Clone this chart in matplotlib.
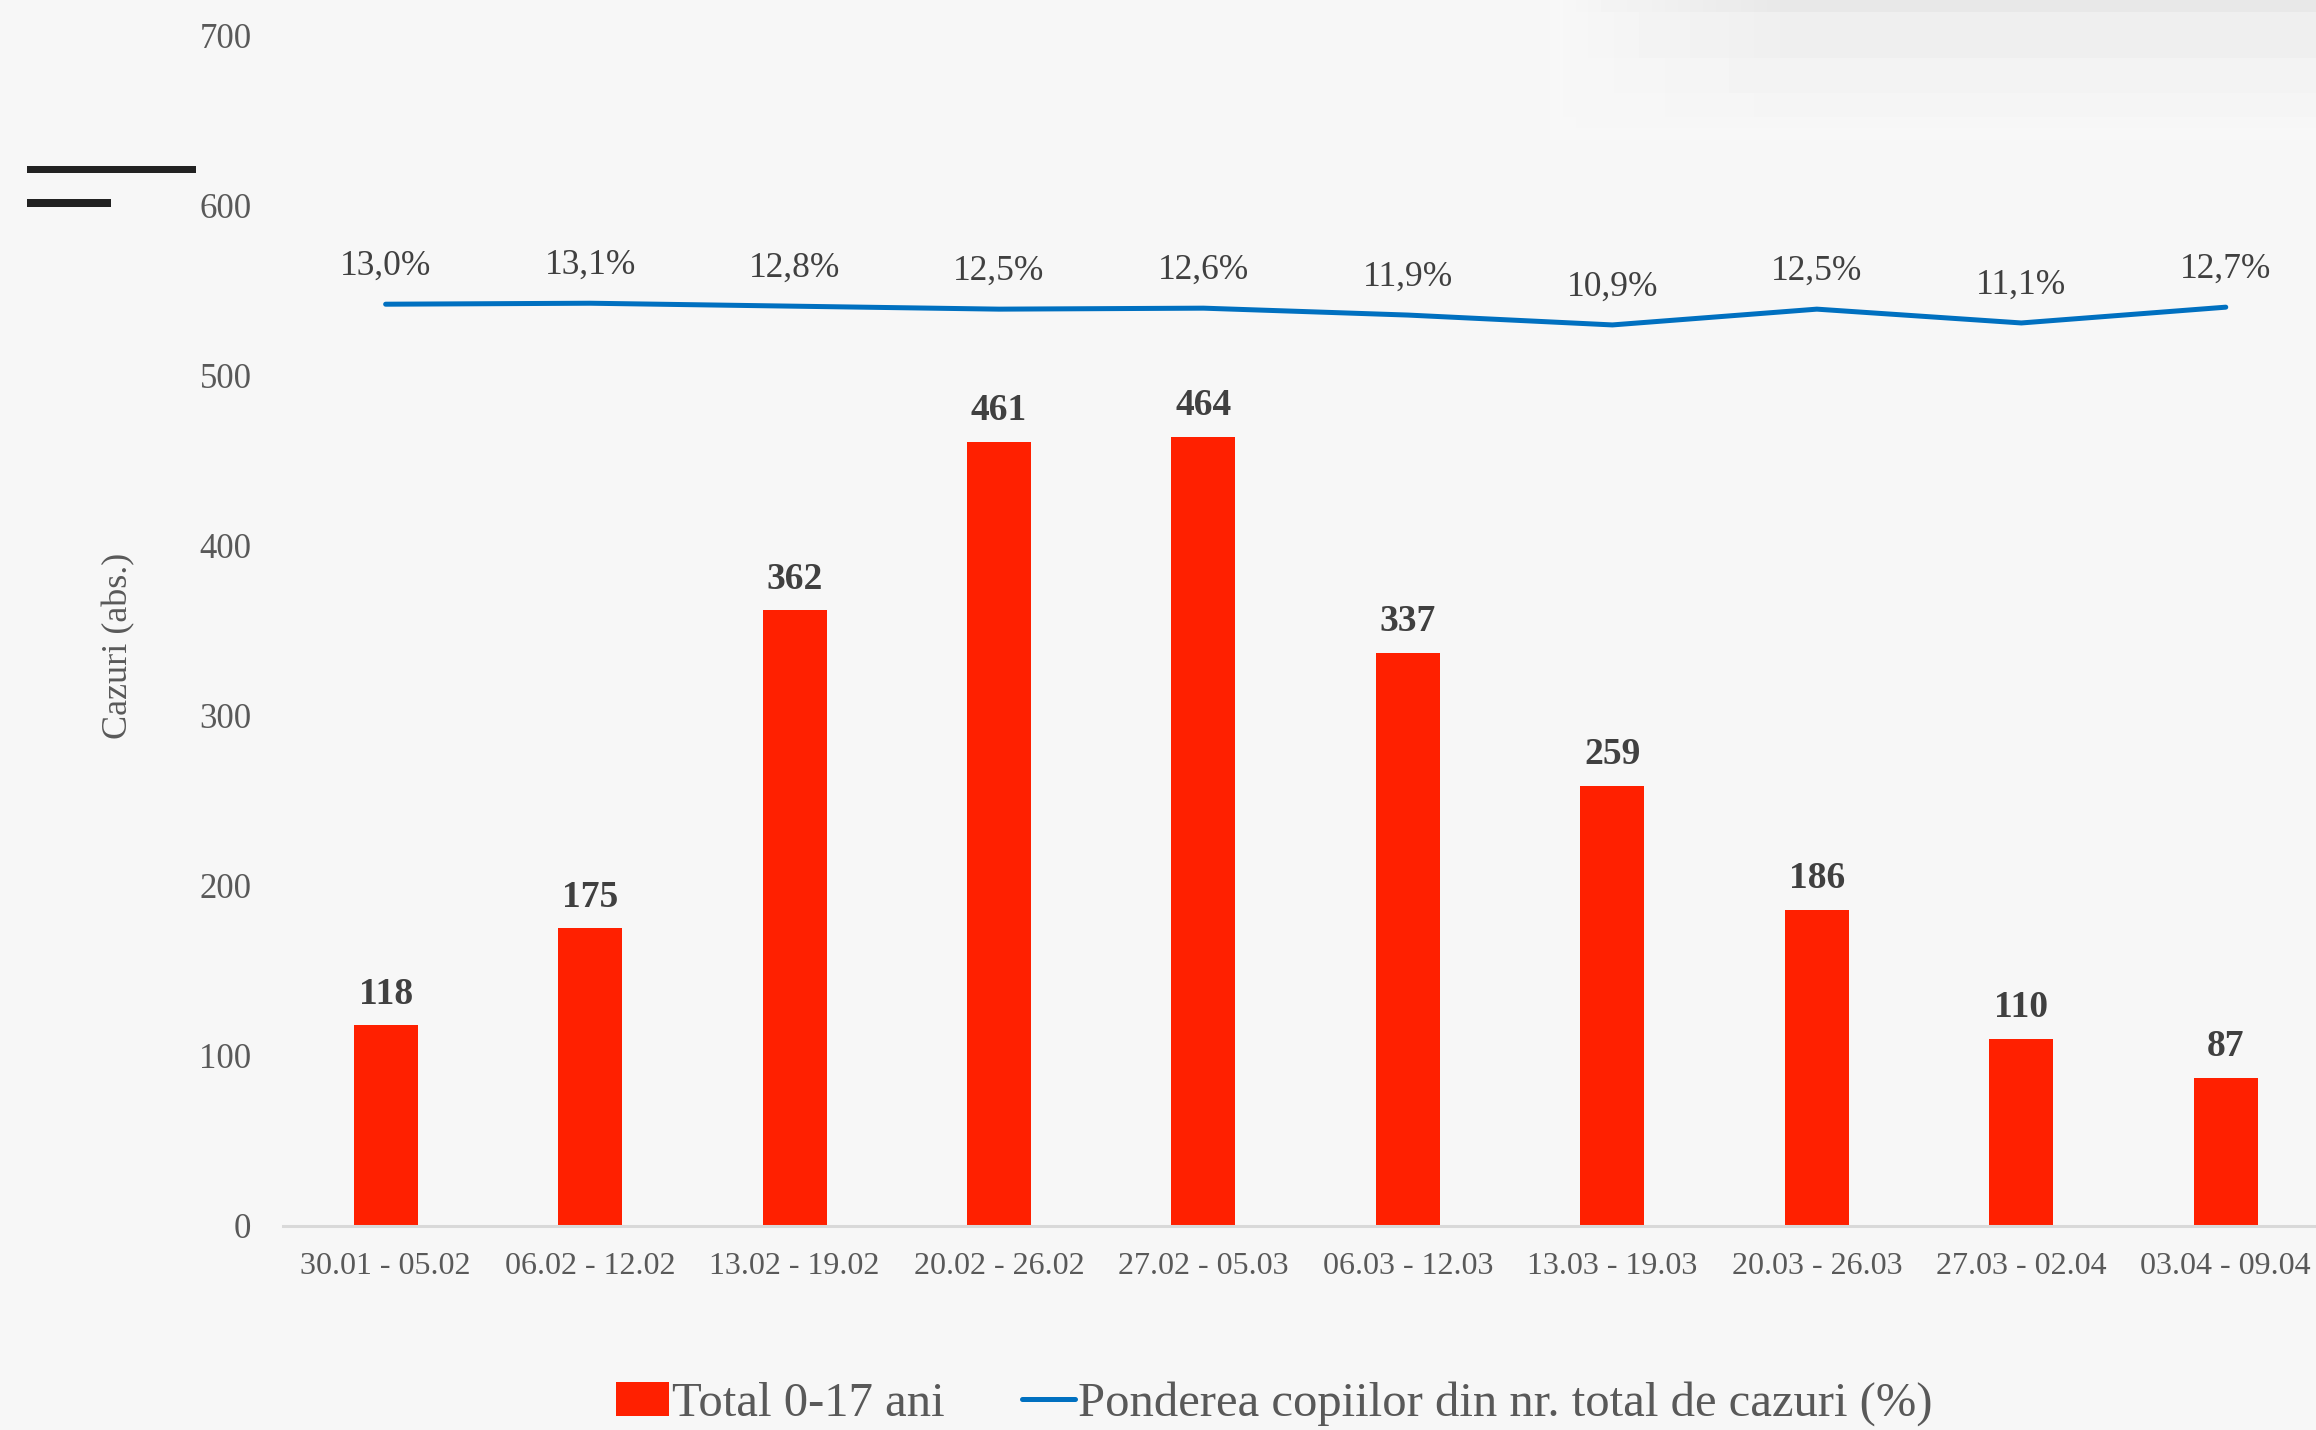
import matplotlib
matplotlib.use('Agg')
import numpy as np
import matplotlib.pyplot as plt
from matplotlib.patches import Rectangle

weeks = ["30.01 - 05.02", "06.02 - 12.02", "13.02 - 19.02", "20.02 - 26.02", "27.02 - 05.03",
         "06.03 - 12.03", "13.03 - 19.03", "20.03 - 26.03", "27.03 - 02.04", "03.04 - 09.04"]
total = [118, 175, 362, 461, 464, 337, 259, 186, 110, 87]
share = [13.0, 13.1, 12.8, 12.5, 12.6, 11.9, 10.9, 12.5, 11.1, 12.7]
yticks = [0, 100, 200, 300, 400, 500, 600, 700]

W, H = 2316, 1430
plt.rcParams['font.family'] = ['Liberation Serif', 'DejaVu Serif']
bg = '#F7F7F7'
fig = plt.figure(figsize=(W / 100, H / 100), dpi=100, facecolor=bg)

# faint banded shading in the top right corner
gax = fig.add_axes([1550 / W, 1 - 140 / H, 1 - 1550 / W, 140 / H])
bands = np.array([0.910, 0.937, 0.937, 0.937, 0.937, 0.953, 0.953, 0.953, 0.960, 0.960, 0.965, 0.969])[:, None]
gx = np.clip(np.linspace(0, 1, 60) / 0.3, 0, 1)[None, :]
grad = 0.969 - (0.969 - bands) * gx
gax.imshow(grad, cmap='gray', vmin=0, vmax=1, aspect='auto', interpolation='nearest')
gax.axis('off')

ax = fig.add_axes([283.4 / W, 204 / H, 1 - 283.4 / W, (1226 - 35.5) / H])
ax.set_facecolor('none')
x = np.arange(len(weeks))
bars = ax.bar(x, total, width=0.313, color='#FF2000', label='Total 0-17 ani', zorder=2)
for xi, v in zip(x, total):
    ax.annotate(str(v), (xi, v), xytext=(0, 22.5), textcoords='offset points',
                ha='center', va='center', fontsize=27, fontweight='bold', color='#404040')

ax.set_xlim(-0.5, 9.5 - 12 / 204.5)
ax.set_ylim(0, 700)
ax.set_yticks(yticks)
ax.set_xticks(x)
ax.set_xticklabels(weeks)
ax.tick_params(axis='both', length=0, labelcolor='#595959')
ax.tick_params(axis='x', pad=19, labelsize=23)
ax.tick_params(axis='y', pad=23, labelsize=25)
for s in ['top', 'right', 'left']:
    ax.spines[s].set_visible(False)
ax.spines['bottom'].set_color('#D9D9D9')
ax.spines['bottom'].set_linewidth(2.2)
ax.set_ylabel('Cazuri (abs.)', fontsize=26, color='#595959')
ax.yaxis.set_label_coords(-(283.4 - 135) / (W - 283.4), 0.487)

ax2 = ax.twinx()
ax2.set_ylim(13 - 542 / 5.8, 13 + 158 / 5.8)
ax2.axis('off')
line, = ax2.plot(x, share, color='#0070C0', lw=3.6, label='Ponderea copiilor din nr. total de cazuri (%)',
                 solid_capstyle='round')
for xi, v in zip(x, share):
    ax2.annotate(f"{v:.1f}%".replace('.', ','), (xi, v), xytext=(0, 27.4), textcoords='offset points',
                 ha='center', va='center', fontsize=25.5, color='#404040')

fig.legend([bars, line], [bars.get_label(), line.get_label()], ncol=2, loc='center',
           bbox_to_anchor=(1274 / W, 1 - 1404 / H), frameon=False, fontsize=35,
           labelcolor='#595959', handlelength=1.1, handletextpad=0.05, columnspacing=1.6)

# two short dark strokes at the top left
fig.add_artist(Rectangle((27 / W, 1 - 173 / H), 169 / W, 7 / H, transform=fig.transFigure,
                         color='#222222', lw=0))
fig.add_artist(Rectangle((27 / W, 1 - 207 / H), 84 / W, 8 / H, transform=fig.transFigure,
                         color='#222222', lw=0))

fig.savefig('out.png', dpi=100, facecolor=bg)
